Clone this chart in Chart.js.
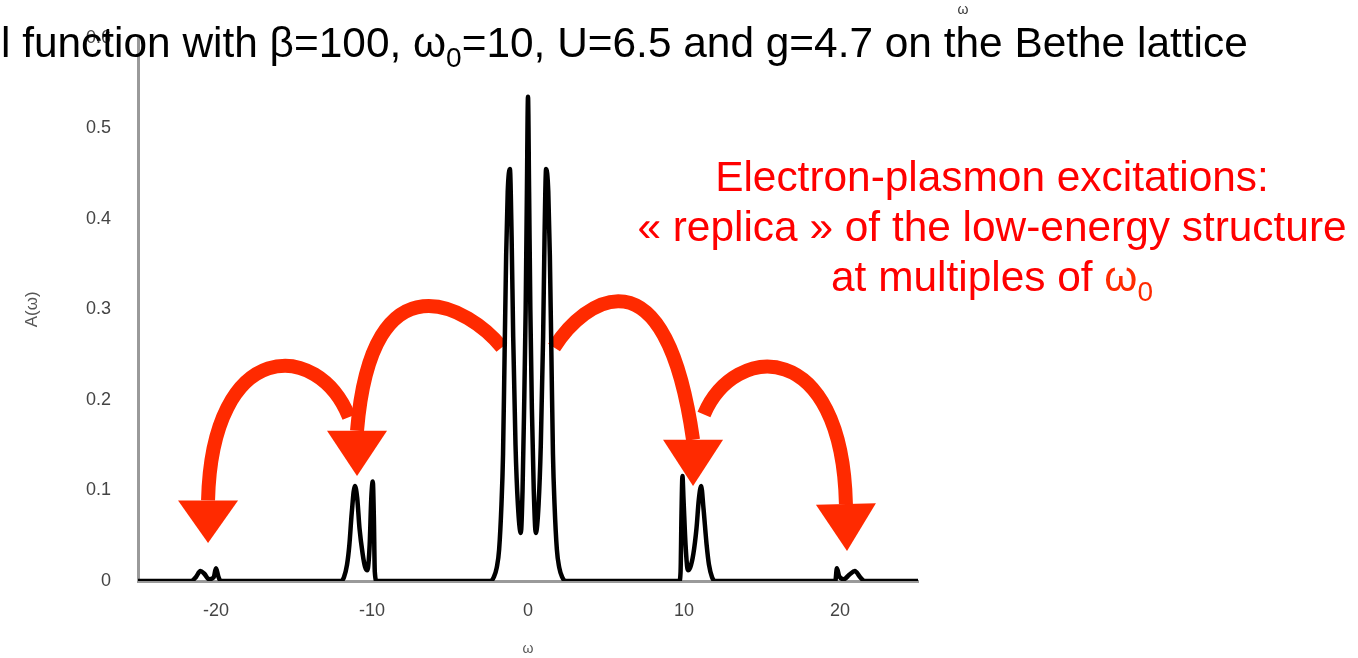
<!DOCTYPE html>
<html lang="en">
<head>
<meta charset="UTF-8">
<title>Spectral function</title>
<script src="https://cdn.jsdelivr.net/npm/chart.js"></script>
<style>
  body { margin: 0; background: #fff; }
  canvas { display: block; }
</style>
</head>
<body>
<canvas id="myChart" width="1358" height="658"></canvas>
<script>
// A(w) read along the frequency axis: central three-peak structure plus replicas at +-10 and +-20
const omega = [
  -25, -21.6, -21.3, -21.0, -20.75, -20.45, -20.15, -20.0, -19.85, -19.7,
  -12.0, -11.8, -11.6, -11.45, -11.3, -11.1, -10.95, -10.8, -10.6, -10.45, -10.3, -10.15, -10.05, -9.95, -9.88, -9.82, -9.7,
  -2.4, -2.2, -2.0, -1.85, -1.7, -1.6, -1.5, -1.4, -1.3, -1.16, -1.05, -0.95, -0.8, -0.65, -0.46, -0.35, -0.25, -0.15, -0.07,
  0,
  0.07, 0.15, 0.25, 0.37, 0.5, 0.68, 0.82, 0.97, 1.06, 1.16, 1.3, 1.4, 1.5, 1.6, 1.7, 1.85, 2.0, 2.2, 2.4,
  9.7, 9.78, 9.84, 9.9, 9.97, 10.1, 10.25, 10.4, 10.6, 10.8, 10.95, 11.1, 11.25, 11.45, 11.6, 11.8, 12.0,
  19.7, 19.8, 19.95, 20.25, 20.6, 20.95, 21.3, 21.6, 25
];
const spectral = [
  0, 0, 0.004, 0.011, 0.008, 0.002, 0.004, 0.014, 0.005, 0,
  0, 0.004, 0.018, 0.04, 0.075, 0.105, 0.092, 0.058, 0.03, 0.016, 0.012, 0.04, 0.09, 0.11, 0.07, 0.01, 0,
  0, 0.004, 0.015, 0.035, 0.085, 0.14, 0.25, 0.36, 0.43, 0.455, 0.38, 0.27, 0.15, 0.085, 0.053, 0.1, 0.19, 0.3, 0.43,
  0.535,
  0.43, 0.3, 0.19, 0.1, 0.053, 0.085, 0.15, 0.27, 0.38, 0.455, 0.43, 0.36, 0.25, 0.14, 0.085, 0.035, 0.015, 0.004, 0,
  0, 0.01, 0.075, 0.116, 0.09, 0.04, 0.012, 0.015, 0.03, 0.058, 0.09, 0.105, 0.08, 0.04, 0.018, 0.004, 0,
  0, 0.014, 0.005, 0.002, 0.007, 0.011, 0.004, 0, 0
];
const xTicks = [-20, -10, 0, 10, 20];
const xTickLabels = ['-20', '-10', '0', '10', '20'];
const yTicks = [0, 0.1, 0.2, 0.3, 0.4, 0.5, 0.6];
const yTickLabels = ['0', '0.1', '0.2', '0.3', '0.4', '0.5', '0.6'];

// curved arrows in axis units: start, control 1, control 2, shaft end, head tip
const arrows = [
  [[-1.67, 0.258], [-3.72, 0.302], [-10.0, 0.366], [-10.96, 0.166], [-10.96, 0.116]],
  [[-11.47, 0.181], [-13.46, 0.267], [-20.26, 0.269], [-20.51, 0.089], [-20.51, 0.042]],
  [[1.67, 0.258], [3.59, 0.310], [8.78, 0.375], [10.58, 0.156], [10.58, 0.105]],
  [[11.28, 0.184], [13.27, 0.264], [20.13, 0.269], [20.38, 0.085], [20.45, 0.033]]
];

const FONT = '"Liberation Sans", Arial, Helvetica, sans-serif';
const arrowRed = '#ff2a00';

// text runs with optional subscript pieces
function drawRuns(ctx, runs, x, y, size, align, color) {
  const subSize = Math.round(size * 0.66);
  let total = 0;
  runs.forEach(r => {
    ctx.font = (r.sub ? subSize : size) + 'px ' + FONT;
    r.w = ctx.measureText(r.t).width;
    total += r.w;
  });
  let cx = align === 'center' ? x - total / 2 : x;
  ctx.textAlign = 'left';
  ctx.textBaseline = 'alphabetic';
  runs.forEach(r => {
    ctx.font = (r.sub ? subSize : size) + 'px ' + FONT;
    ctx.fillStyle = r.c || color;
    ctx.fillText(r.t, cx, r.sub ? y + size * 0.24 : y);
    cx += r.w;
  });
}

const arrowPlugin = {
  id: 'arrows',
  beforeDatasetsDraw(chart) {
    const {ctx, scales: {x, y}} = chart;
    ctx.save();
    ctx.strokeStyle = arrowRed;
    ctx.fillStyle = arrowRed;
    ctx.lineWidth = 14;
    ctx.lineCap = 'butt';
    arrows.forEach(a => {
      const p = a.map(v => [x.getPixelForValue(v[0]), y.getPixelForValue(v[1])]);
      ctx.beginPath();
      ctx.moveTo(p[0][0], p[0][1]);
      ctx.bezierCurveTo(p[1][0], p[1][1], p[2][0], p[2][1], p[3][0], p[3][1]);
      ctx.stroke();
      // head
      const dx = p[4][0] - p[3][0], dy = p[4][1] - p[3][1];
      const len = Math.hypot(dx, dy);
      const nx = -dy / len * 30, ny = dx / len * 30;
      ctx.beginPath();
      ctx.moveTo(p[3][0] + nx, p[3][1] + ny);
      ctx.lineTo(p[3][0] - nx, p[3][1] - ny);
      ctx.lineTo(p[4][0], p[4][1]);
      ctx.closePath();
      ctx.fill();
    });
    ctx.restore();
  }
};

const textPlugin = {
  id: 'texts',
  afterDraw(chart) {
    const ctx = chart.ctx;
    ctx.save();
    drawRuns(ctx, [
      {t: 'l function with \u03b2=100, \u03c9'}, {t: '0', sub: true},
      {t: '=10, U=6.5 and g=4.7 on the Bethe lattice'}
    ], 1, 57, 42.4, 'left', '#000');
    ctx.font = '14px ' + FONT;
    ctx.fillStyle = '#333';
    ctx.textAlign = 'center';
    ctx.fillText('\u03c9', 963, 14);
    drawRuns(ctx, [{t: 'Electron-plasmon excitations:'}], 992, 191, 42.4, 'center', '#ff0000');
    drawRuns(ctx, [{t: '\u00ab replica \u00bb of the low-energy structure'}], 992, 241, 42.4, 'center', '#ff0000');
    drawRuns(ctx, [
      {t: 'at multiples of '}, {t: '\u03c9', c: arrowRed}, {t: '0', sub: true, c: arrowRed}
    ], 992, 291, 42.4, 'center', '#ff0000');
    ctx.restore();
  }
};

const ctx = document.getElementById('myChart');

new Chart(ctx, {
  type: 'line',
  data: {
    datasets: [{
      data: omega.map((w, i) => ({x: w, y: spectral[i]})),
      borderColor: '#000',
      borderWidth: 4.5,
      pointRadius: 0,
      fill: false,
      cubicInterpolationMode: 'monotone'
    }]
  },
  options: {
    responsive: false,
    animation: false,
    devicePixelRatio: 1,
    layout: { padding: { top: 22, right: 440, bottom: 0, left: 0 } },
    plugins: { legend: { display: false }, tooltip: { enabled: false } },
    scales: {
      x: {
        type: 'linear',
        min: -25,
        max: 25,
        afterFit: s => { s.height = 77; },
        afterBuildTicks: s => { s.ticks = xTicks.map(v => ({value: v})); },
        ticks: {
          padding: 19,
          color: '#444',
          font: { family: FONT, size: 18 },
          callback: (v) => xTickLabels[xTicks.indexOf(v)]
        },
        grid: { drawOnChartArea: false, drawTicks: false },
        border: { display: true, color: '#9a9a9a', width: 3 },
        title: { display: true, text: '\u03c9', color: '#555', font: { family: FONT, size: 14 }, padding: { top: 0, bottom: 0 } }
      },
      y: {
        min: 0,
        max: 0.6,
        afterFit: s => { s.width = 138; },
        afterBuildTicks: s => { s.ticks = yTicks.map(v => ({value: v})); },
        ticks: {
          padding: 27,
          color: '#444',
          font: { family: FONT, size: 18 },
          callback: (v) => yTickLabels[yTicks.indexOf(v)]
        },
        grid: { drawOnChartArea: false, drawTicks: false },
        border: { display: true, color: '#9a9a9a', width: 3 },
        title: { display: true, text: 'A(\u03c9)', color: '#555', font: { family: FONT, size: 17 }, padding: { top: 22, bottom: 0 } }
      }
    }
  },
  plugins: [arrowPlugin, textPlugin]
});
</script>
</body>
</html>
